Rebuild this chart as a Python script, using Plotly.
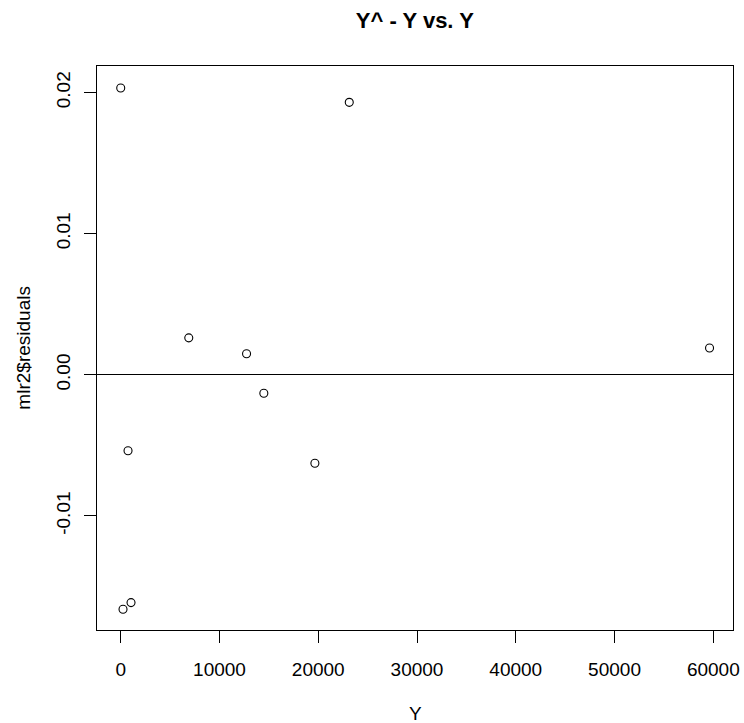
import plotly.graph_objects as go

# Data
y_actual = [0, 23140, 6890, 12740, 14490, 740, 19660, 233, 1044, 59620]
residuals = [0.02033, 0.01931, 0.00262, 0.00149, -0.00131, -0.00538, -0.00627, -0.01661, -0.01614, 0.00190]

x_ticks = [0, 10000, 20000, 30000, 40000, 50000, 60000]
x_tick_text = ["0", "10000", "20000", "30000", "40000", "50000", "60000"]
y_ticks = [-0.01, 0.0, 0.01, 0.02]
y_tick_text = ["-0.01", "0.00", "0.01", "0.02"]

FONT = "Liberation Sans, Arial, Helvetica, sans-serif"

fig = go.Figure()
fig.add_trace(go.Scatter(
    x=y_actual, y=residuals, mode="markers",
    marker=dict(symbol="circle-open", size=8, color="black", line=dict(width=1.1, color="black")),
    showlegend=False, hoverinfo="x+y",
))

fig.update_layout(
    width=744, height=723,
    margin=dict(l=97, r=11, t=66, b=93, autoexpand=False),
    paper_bgcolor="white", plot_bgcolor="white",
    font=dict(family=FONT, color="black", size=19),
    title=dict(text="<b>Y^ - Y vs. Y</b>", x=0.5576, xanchor="center",
               y=1 - 20 / 723, yanchor="middle", yref="container",
               font=dict(size=22, family=FONT, color="black")),
    xaxis=dict(range=[-2402, 61995], tickmode="array", tickvals=x_ticks, ticktext=x_tick_text,
               ticks="outside", ticklen=12, tickwidth=1, tickcolor="black",
               showline=True, linecolor="black", linewidth=1, mirror=True,
               showgrid=False, zeroline=False, ticklabelstandoff=10,
               tickfont=dict(size=19, family=FONT, color="black")),
    yaxis=dict(range=[-0.018081, 0.021884], tickmode="array", tickvals=y_ticks, ticktext=y_tick_text,
               ticks="outside", ticklen=12, tickwidth=1, tickcolor="black",
               showline=True, linecolor="black", linewidth=1, mirror=True,
               showgrid=False, zeroline=True, zerolinecolor="black", zerolinewidth=1,
               tickangle=-90, ticklabelstandoff=6,
               tickfont=dict(size=19, family=FONT, color="black")),
    annotations=[
        dict(text="Y", xref="paper", yref="paper", x=0.5, y=-83 / 564,
             xanchor="center", yanchor="middle", showarrow=False,
             font=dict(size=19, family=FONT, color="black")),
        dict(text="mlr2$residuals", xref="paper", yref="paper", x=-(97.3 - 23) / 635.4, y=0.5,
             xanchor="center", yanchor="middle", textangle=-90, showarrow=False,
             font=dict(size=19, family=FONT, color="black")),
    ],
)

fig.write_html("out.html", config={"displayModeBar": False},
               post_script="document.body.style.margin='0';document.body.style.padding='0';")
